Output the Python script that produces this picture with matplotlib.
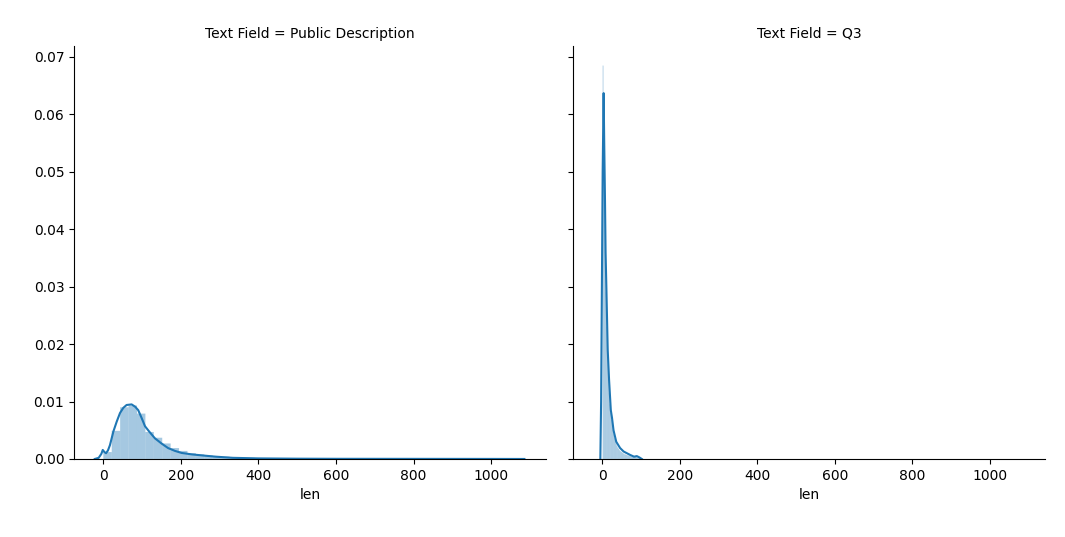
import numpy as np
import matplotlib
matplotlib.use('Agg')
import matplotlib.pyplot as plt

# histogram bin heights (density)
pub_bin_lo, pub_bin_hi = 0, 1085
pub_hist = [0.0012, 0.0049, 0.0090, 0.0093, 0.0079, 0.0047, 0.0037, 0.0027, 0.0019, 0.0014,
            0.0010, 0.0008, 0.0006, 0.0005, 0.0004, 0.0003, 0.00025, 0.0002, 0.00015, 0.00013,
            0.00011, 0.0001, 0.00009, 0.00008, 0.00007, 0.00006, 0.00005, 0.00005, 0.00004, 0.00004,
            0.00003, 0.00003, 0.00003, 0.00002, 0.00002, 0.00002, 0.00002, 0.00002, 0.00001, 0.00001,
            0.00001, 0.00001, 0.00001, 0.00001, 0.00001, 0.00001, 0.00001, 0.00001, 0.00001, 0.00001]

q3_bin_lo, q3_bin_hi = 1, 101
q3_hist = [0.0685, 0.058, 0.047, 0.037, 0.029, 0.023, 0.018, 0.014, 0.0115, 0.0095,
           0.0080, 0.0068, 0.0058, 0.0050, 0.0043, 0.0036, 0.0031, 0.0027, 0.0023, 0.0020,
           0.0018, 0.0016, 0.0014, 0.0013, 0.0012, 0.0011, 0.0010, 0.0009, 0.0008, 0.0008,
           0.0007, 0.0007, 0.0006, 0.0006, 0.0005, 0.0005, 0.0005, 0.0004, 0.0004, 0.0005,
           0.0005, 0.0004, 0.0004, 0.0003, 0.0003, 0.0002, 0.0002, 0.0002, 0.0001, 0.0001]

# kde curves
pub_kde_x = [-22, -12, -5, -1.5, 3, 7, 12, 17, 26, 34.5, 43, 51.5, 60, 73, 82, 90, 99, 107.5,
             118, 133, 150, 167, 185, 202, 228, 258, 290, 334, 400, 500, 600, 800, 1000, 1086]
pub_kde_y = [0, 0.0002, 0.0009, 0.00157, 0.0012, 0.001, 0.0015, 0.0024, 0.0048, 0.0065, 0.0080,
             0.0089, 0.0094, 0.0095, 0.0091, 0.0085, 0.0071, 0.0057, 0.0048, 0.0036, 0.0027,
             0.0019, 0.0014, 0.00105, 0.0008, 0.0006, 0.0004, 0.0002, 0.0001, 0.00005, 0.00003,
             0.00002, 0.00001, 0]

q3_kde_x = [-5, -3, -1, 1, 3.5, 5, 7, 8.5, 10.5, 14, 17.5, 22, 25, 29, 36, 46, 55, 72, 82, 89, 95, 102]
q3_kde_y = [0, 0.010, 0.030, 0.050, 0.0637, 0.055, 0.045, 0.036, 0.030, 0.019, 0.0138, 0.0085,
            0.0072, 0.005, 0.003, 0.0019, 0.0013, 0.0007, 0.0004, 0.0005, 0.0003, 0]

panels = [
    ('Public Description', pub_bin_lo, pub_bin_hi, pub_hist, pub_kde_x, pub_kde_y),
    ('Q3', q3_bin_lo, q3_bin_hi, q3_hist, q3_kde_x, q3_kde_y),
]

fig = plt.figure(figsize=(10.65, 5.37), dpi=100)
ax1 = fig.add_axes([0.0695, 0.1453, 0.4432, 0.769])
ax2 = fig.add_axes([0.538, 0.1453, 0.4432, 0.769], sharex=ax1, sharey=ax1)

for ax, (name, lo, hi, heights, kx, ky) in zip([ax1, ax2], panels):
    edges = np.linspace(lo, hi, len(heights) + 1)
    bars = ax.bar(edges[:-1], heights, width=np.diff(edges), align='edge', color='C0', alpha=0.4, linewidth=0)
    for b in bars:
        b.set_snap(False)  # keep the very narrow bins visible
    ax.plot(kx, ky, color='C0', lw=1.5)
    ax.set_title(f'Text Field = {name}', fontsize=10)
    ax.set_xlabel('len')
    ax.spines['top'].set_visible(False)
    ax.spines['right'].set_visible(False)

ax1.set_xlim(-75.6, 1141.8)
ax1.set_ylim(0, 0.0719)
ax1.set_yticks(np.arange(0, 0.071, 0.01))
ax1.yaxis.set_major_formatter(matplotlib.ticker.FormatStrFormatter('%.2f'))
ax2.tick_params(labelleft=False)

fig.savefig('out.png', dpi=100)
